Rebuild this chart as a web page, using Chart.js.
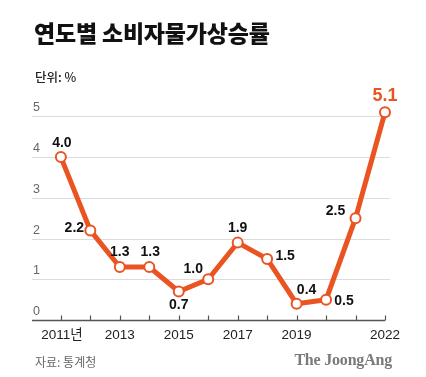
<!DOCTYPE html>
<html>
<head>
<meta charset="utf-8">
<script src="https://cdn.jsdelivr.net/npm/chart.js@4.4.1/dist/chart.umd.min.js"></script>
<style>
  html, body { margin: 0; padding: 0; background: #fff; }
  #wrap { position: relative; width: 426px; height: 377px; }
  #wrap canvas { position: absolute; left: 0; top: 0; }
  .txt { position: absolute; white-space: nowrap; }
  #title { left: 34px; top: 15px; font: 900 23px "Noto Sans CJK KR", sans-serif; color: #111; letter-spacing: -0.2px; }
  #unit { left: 35px; top: 67px; font: 500 12.5px "Noto Sans CJK KR", sans-serif; color: #222; }
  #source { left: 35px; top: 353px; font: 400 12px "Noto Sans CJK KR", sans-serif; color: #666; }
  #logo { right: 34px; top: 351px; font: 700 16px "Liberation Serif", serif; color: #7a7a7a; letter-spacing: -0.2px; }
</style>
</head>
<body>
<div id="wrap">
  <canvas id="graphique" width="426" height="377"></canvas>
  <div class="txt" id="title">연도별 소비자물가상승률</div>
  <div class="txt" id="unit">단위: %</div>
  <div class="txt" id="source">자료: 통계청</div>
  <div class="txt" id="logo">The JoongAng</div>
</div>
<script>
// données
const annees = [2011, 2012, 2013, 2014, 2015, 2016, 2017, 2018, 2019, 2020, 2021, 2022];
const inflation = [4.0, 2.2, 1.3, 1.3, 0.7, 1.0, 1.9, 1.5, 0.4, 0.5, 2.5, 5.1];
const yTicks = [0, 1, 2, 3, 4, 5];
const xLabels = { 2011: '2011년', 2013: '2013', 2015: '2015', 2017: '2017', 2019: '2019', 2022: '2022' };

// position des étiquettes par rapport au point (dx, dy)
const decalages = [[1, -14], [-16, -2], [0, -15], [1, -15], [0, 14], [-15, -10],
                   [0, -14], [18, -3], [10, -14], [18, 2], [-20, -7], [0, -16]];

const ORANGE = '#EA5422';

const axesPlugin = {
  id: 'axesPlugin',
  beforeDatasetsDraw(chart) {
    const { ctx, chartArea, scales: { x, y } } = chart;
    ctx.save();
    // lignes de grille
    ctx.strokeStyle = '#dcdcdc';
    ctx.lineWidth = 1;
    yTicks.forEach(v => {
      if (v === 0) return;
      const py = Math.round(y.getPixelForValue(v)) + 0.5;
      ctx.beginPath();
      ctx.moveTo(chartArea.left, py);
      ctx.lineTo(chartArea.right, py);
      ctx.stroke();
    });
    // étiquettes de l'axe y
    ctx.fillStyle = '#666';
    ctx.font = '12.5px "Liberation Sans", sans-serif';
    ctx.textAlign = 'left';
    ctx.textBaseline = 'alphabetic';
    yTicks.forEach(v => {
      ctx.fillText(String(v), chartArea.left + 1, y.getPixelForValue(v) - 5);
    });
    // axe x
    const y0 = Math.round(y.getPixelForValue(0)) + 0.5;
    ctx.strokeStyle = '#555';
    ctx.lineWidth = 1.5;
    ctx.beginPath();
    ctx.moveTo(chartArea.left, y0);
    ctx.lineTo(x.getPixelForValue(annees[annees.length - 1]), y0);
    ctx.stroke();
    ctx.lineWidth = 1.2;
    annees.forEach(a => {
      const px = Math.round(x.getPixelForValue(a)) + 0.5;
      ctx.beginPath();
      ctx.moveTo(px, y0);
      ctx.lineTo(px, y0 - 5);
      ctx.stroke();
    });
    // étiquettes de l'axe x
    ctx.fillStyle = '#222';
    ctx.font = '13.5px "Liberation Sans", "Noto Sans CJK KR", sans-serif';
    ctx.textAlign = 'center';
    ctx.textBaseline = 'middle';
    annees.forEach(a => {
      if (xLabels[a]) ctx.fillText(xLabels[a], x.getPixelForValue(a) + (a === 2011 ? 1 : 0), y0 + 15);
    });
    ctx.restore();
  },
  afterDatasetsDraw(chart) {
    const { ctx } = chart;
    const meta = chart.getDatasetMeta(0);
    ctx.save();
    ctx.textAlign = 'center';
    ctx.textBaseline = 'middle';
    meta.data.forEach((pt, i) => {
      const last = i === inflation.length - 1;
      ctx.fillStyle = last ? ORANGE : '#111';
      ctx.font = last ? 'bold 18px "Liberation Sans", sans-serif' : 'bold 14px "Liberation Sans", sans-serif';
      ctx.fillText(inflation[i].toFixed(1), pt.x + decalages[i][0], pt.y + decalages[i][1]);
    });
    ctx.restore();
  }
};

new Chart(document.getElementById('graphique').getContext('2d'), {
  type: 'line',
  data: {
    datasets: [{
      data: annees.map((a, i) => ({ x: a, y: inflation[i] })),
      borderColor: ORANGE,
      borderWidth: 5,
      pointRadius: 5,
      pointBorderWidth: 2,
      pointBackgroundColor: '#fff',
      pointBorderColor: ORANGE,
      tension: 0,
      clip: false
    }]
  },
  options: {
    responsive: false,
    animation: false,
    layout: { padding: { left: 32, right: 36, top: 96, bottom: 57 } },
    scales: {
      x: { type: 'linear', display: false, min: 2010.02, max: 2022.17 },
      y: { type: 'linear', display: false, min: 0, max: 5.5 }
    },
    plugins: {
      legend: { display: false },
      tooltip: { enabled: false }
    }
  },
  plugins: [axesPlugin]
});
</script>
</body>
</html>
